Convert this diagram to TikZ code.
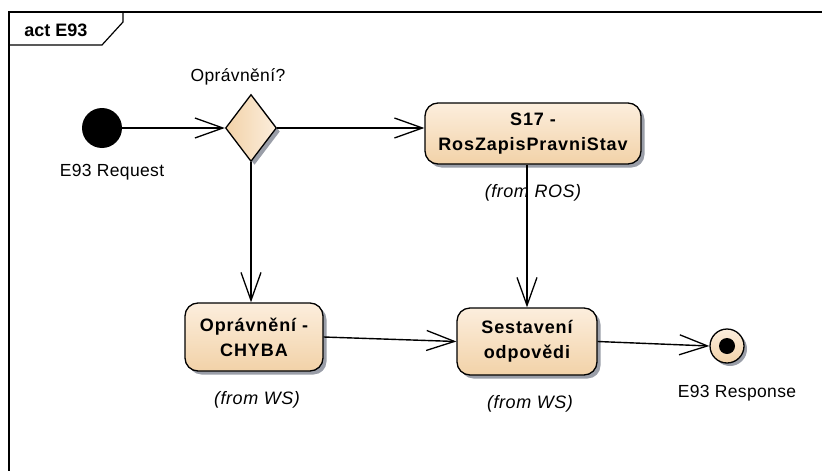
\documentclass[tikz,border=0pt]{standalone}
\usepackage{fontspec}
\setmainfont{Liberation Sans}
\usetikzlibrary{arrows.meta,shapes.geometric,shadows}
\definecolor{fillTop}{HTML}{FCEEDD}
\definecolor{fillBot}{HTML}{F2D2A8}
\definecolor{shad}{HTML}{9A9EA8}
\newcommand{\txtfont}{\fontsize{17.5}{21}\selectfont\addfontfeatures{LetterSpace=2}}
\tikzset{
  x=1pt, y=-1pt,
  every node/.style={font=\txtfont},
  act/.style={draw=black, line width=1.3pt, rounded corners=13pt,
    top color=fillTop, bottom color=fillBot,
    drop shadow={shadow xshift=3.5pt, shadow yshift=-3.5pt, fill=shad, opacity=1},
    align=center, font=\fontsize{18}{25}\selectfont\bfseries\addfontfeatures{LetterSpace=5}, inner sep=0pt},
  lbl/.style={font=\fontsize{18}{21}\selectfont\itshape\addfontfeatures{LetterSpace=3}},
  flow/.style={line width=1.4pt, -{Straight Barb[length=28pt,width=20pt,line width=1.3pt]}},
}
\begin{document}
\begin{tikzpicture}
\useasboundingbox (0,0) rectangle (822,471);
% frame
\draw[line width=1.2pt] (822,12) -- (9,12) -- (9,471);
\draw[line width=1.2pt] (9,45) -- (102,45) -- (123,22) -- (123,12);
\node[font=\fontsize{18}{21}\selectfont\bfseries] (title) at (56,30) {act E93};
% nodes
\node[circle, fill=black, minimum size=40pt, inner sep=0pt] (init) at (102,128) {};
\node (initl) at (112,172) {E93 Request};
\node[diamond, draw=black, line width=1.3pt, minimum width=51pt, minimum height=67pt, inner sep=0pt, aspect=0.76,
  left color=fillBot, right color=fillTop,
  drop shadow={shadow xshift=3.5pt, shadow yshift=-3.5pt, fill=shad, opacity=1}] (dia) at (251,128) {};
\node (dial) at (238,77) {Oprávnění?};
\node[act, minimum width=216pt, minimum height=61pt] (s17) at (533,133.5) {S17 -\\RosZapisPravniStav};
\node[lbl] (s17l) at (533,193) {(from ROS)};
\node[act, minimum width=138pt, minimum height=68pt] (chy) at (254,337) {Oprávnění -\\CHYBA};
\node[lbl] (chyl) at (257,400) {(from WS)};
\node[act, minimum width=140pt, minimum height=67pt] (ses) at (527,341.5) {Sestavení\\odpovědi};
\node[lbl] (sesl) at (530,404) {(from WS)};
\node[circle, draw=black, line width=1.3pt, minimum size=34pt, inner sep=0pt,
  top color=fillTop, bottom color=fillBot,
  drop shadow={shadow xshift=3pt, shadow yshift=-3pt, fill=shad, opacity=1}] (fin) at (727,346) {};
\node[circle, fill=black, minimum size=16pt, inner sep=0pt] (fini) at (fin) {};
\node (finl) at (737,393) {E93 Response};
% flows
\draw[flow] (init) -- (dia.west);
\draw[flow] (dia.east) -- (s17.west |- dia.east);
\draw[flow] (dia.south) -- (dia.south |- chy.north);
\draw[flow] (s17.south -| ses.north) -- (ses.north);
\draw[flow] (chy.east) -- (ses.west);
\draw[flow] (ses.east) -- (fin.west);
\end{tikzpicture}
\end{document}
